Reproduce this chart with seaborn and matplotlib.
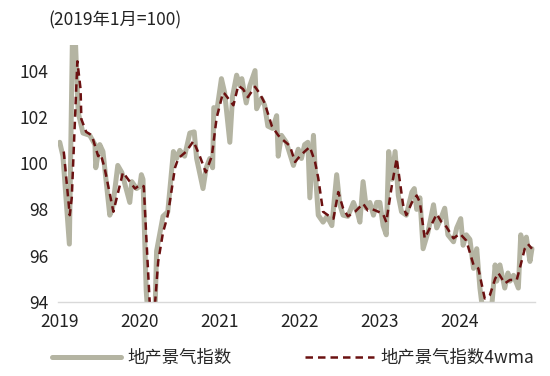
import numpy as np
import pandas as pd
import seaborn as sns
import matplotlib.pyplot as plt

# time in decimal years
t_raw = [2019.00, 2019.04, 2019.12, 2019.16, 2019.19, 2019.23, 2019.29, 2019.375, 2019.44, 2019.45,
         2019.50, 2019.54, 2019.625, 2019.66, 2019.725, 2019.775, 2019.875, 2019.90, 2019.96, 2020.00,
         2020.02, 2020.04, 2020.08, 2020.10, 2020.19, 2020.21, 2020.29, 2020.35, 2020.42, 2020.46,
         2020.50, 2020.56, 2020.625, 2020.68, 2020.71, 2020.79, 2020.83, 2020.875, 2020.91, 2020.925,
         2020.96, 2021.02, 2021.06, 2021.125, 2021.16, 2021.21, 2021.25, 2021.275, 2021.33, 2021.375,
         2021.44, 2021.46, 2021.52, 2021.56, 2021.60, 2021.66, 2021.71, 2021.73, 2021.77, 2021.83,
         2021.92, 2021.98, 2022.02, 2022.06, 2022.10, 2022.125, 2022.17, 2022.19, 2022.23, 2022.29,
         2022.34, 2022.40, 2022.46, 2022.50, 2022.54, 2022.60, 2022.67, 2022.725, 2022.75, 2022.79,
         2022.83, 2022.875, 2022.92, 2022.96, 2023.00, 2023.04, 2023.08, 2023.11, 2023.15, 2023.19,
         2023.23, 2023.27, 2023.33, 2023.40, 2023.43, 2023.46, 2023.50, 2023.54, 2023.60, 2023.67,
         2023.71, 2023.75, 2023.81, 2023.85, 2023.92, 2023.96, 2024.01, 2024.04, 2024.08, 2024.125,
         2024.17, 2024.21, 2024.25, 2024.275, 2024.40, 2024.44, 2024.46, 2024.50, 2024.56, 2024.60,
         2024.625, 2024.67, 2024.73, 2024.76, 2024.79, 2024.83, 2024.875, 2024.90]
v_raw = [100.9, 100.3, 96.5, 105.8, 105.8, 102.2, 101.3, 101.2, 100.8, 99.8,
         100.8, 100.5, 97.75, 98.05, 99.9, 99.6, 98.3, 99.2, 98.9, 99.0,
         99.5, 99.3, 94.5, 93.5, 93.5, 96.2, 97.7, 97.9, 100.5, 100.2,
         100.55, 100.3, 101.3, 101.35, 100.2, 98.9, 99.8, 100.2, 99.8, 102.4,
         102.2, 103.65, 103.05, 100.9, 102.9, 103.8, 103.35, 103.65, 102.6, 103.35,
         104.0, 102.35, 102.8, 102.5, 101.6, 101.5, 102.05, 100.3, 101.2, 100.9,
         99.9, 100.6, 100.2, 100.8, 100.9, 98.5, 101.2, 99.8, 97.75, 97.45,
         97.7, 97.3, 99.5, 98.2, 97.75, 97.7, 98.3, 97.8, 97.45, 99.2,
         98.05, 98.3, 97.75, 98.3, 98.3, 97.3, 96.9, 100.5, 99.3, 100.5,
         98.6, 97.9, 97.75, 98.75, 98.9, 98.0, 98.5, 96.3, 97.0, 98.2,
         97.2, 97.5, 98.05, 96.9, 96.6, 97.2, 97.6, 96.45, 96.9, 96.7,
         95.45, 96.3, 94.6, 93.9, 93.9, 95.6, 94.9, 95.6, 94.6, 95.25,
         94.9, 95.15, 94.6, 96.9, 96.3, 96.8, 95.75, 96.3]

t_ma = [2019.05, 2019.125, 2019.15, 2019.22, 2019.26, 2019.27, 2019.33, 2019.40, 2019.48, 2019.51,
        2019.56, 2019.67, 2019.73, 2019.79, 2019.875, 2019.94, 2020.00, 2020.05, 2020.08, 2020.125,
        2020.19, 2020.23, 2020.29, 2020.35, 2020.44, 2020.48, 2020.58, 2020.67, 2020.75, 2020.825,
        2020.90, 2020.96, 2021.04, 2021.06, 2021.17, 2021.23, 2021.29, 2021.35, 2021.44, 2021.50,
        2021.56, 2021.65, 2021.73, 2021.79, 2021.875, 2021.94, 2022.00, 2022.06, 2022.125, 2022.19,
        2022.23, 2022.29, 2022.35, 2022.42, 2022.48, 2022.54, 2022.60, 2022.69, 2022.79, 2022.85,
        2022.91, 2022.98, 2023.04, 2023.08, 2023.15, 2023.21, 2023.25, 2023.29, 2023.33, 2023.40,
        2023.46, 2023.50, 2023.56, 2023.625, 2023.71, 2023.77, 2023.83, 2023.92, 2024.00, 2024.08,
        2024.17, 2024.23, 2024.31, 2024.375, 2024.44, 2024.48, 2024.56, 2024.625, 2024.71, 2024.77,
        2024.81, 2024.85, 2024.90]
v_ma = [100.5, 97.75, 98.5, 104.4, 103.2, 101.9, 101.35, 101.2, 100.3, 100.4,
        99.8, 97.9, 98.75, 99.6, 99.2, 98.9, 99.05, 99.0, 96.9, 93.9,
        93.9, 95.75, 97.0, 97.75, 99.8, 100.2, 100.5, 100.95, 100.3, 99.6,
        100.3, 101.95, 103.05, 103.0, 102.5, 103.35, 103.2, 102.85, 103.3, 103.0,
        102.6, 101.6, 101.2, 101.0, 100.75, 100.05, 100.3, 100.5, 100.7, 100.05,
        99.35, 97.9, 97.75, 97.6, 98.75, 98.05, 97.7, 97.9, 98.25, 97.95,
        98.0, 97.9, 97.8, 97.45, 99.05, 100.2, 99.2, 98.2, 97.75, 98.3,
        98.6, 98.3, 96.75, 97.2, 97.8, 97.45, 97.25, 96.75, 96.95, 96.65,
        95.6, 95.45, 94.15, 94.3, 95.0, 95.25, 94.8, 94.95, 94.95, 95.75,
        96.3, 96.5, 96.3]

years = [2019, 2020, 2021, 2022, 2023, 2024]
y_ticks = [94, 96, 98, 100, 102, 104]

sns.set_theme(style="white")
plt.rcParams['font.family'] = ['Noto Sans CJK SC', 'DejaVu Sans']

fig = plt.figure(figsize=(5.5, 3.76), dpi=100)
ax = fig.add_axes([0.105, 0.197, 0.868, 0.683])

raw = pd.DataFrame({"t": t_raw, "v": v_raw})
ma = pd.DataFrame({"t": t_ma, "v": v_ma})
sns.lineplot(data=raw, x="t", y="v", ax=ax, color="#B4B4A2", linewidth=3.6,
             label="地产景气指数")
sns.lineplot(data=ma, x="t", y="v", ax=ax, color="#6B1111", linewidth=1.8,
             dashes=False, label="地产景气指数4wma")
ax.lines[-1].set_dashes([3, 2])

ax.set_xlim(2018.975, 2024.94)
ax.set_ylim(94, 105.1)
ax.set_xticks(years)
ax.set_xticklabels([str(y) for y in years], fontsize=12.5, color="#222222")
ax.set_yticks(y_ticks)
ax.set_yticklabels([str(y) for y in y_ticks], fontsize=12.5, color="#222222")
ax.set_xlabel("")
ax.set_ylabel("")
ax.tick_params(axis="x", length=0, pad=8)
ax.tick_params(axis="y", length=0, pad=7)
for s in ["top", "right", "left"]:
    ax.spines[s].set_visible(False)
ax.spines["bottom"].set_color("#D9D9D9")
ax.spines["bottom"].set_linewidth(1.0)

fig.text(0.088, 0.947, "(2019年1月=100)", fontsize=12.5, color="#222222", va="center")

handles, labels = ax.get_legend_handles_labels()
ax.get_legend().remove()
fig.legend(handles, labels, loc="center left", bbox_to_anchor=(52 / 550, 1 - 358 / 376),
           ncol=2, frameon=False, fontsize=12.5, handlelength=4.0, columnspacing=4.2,
           handletextpad=0.35, borderpad=0, borderaxespad=0)

fig.savefig("out.png", dpi=100)
